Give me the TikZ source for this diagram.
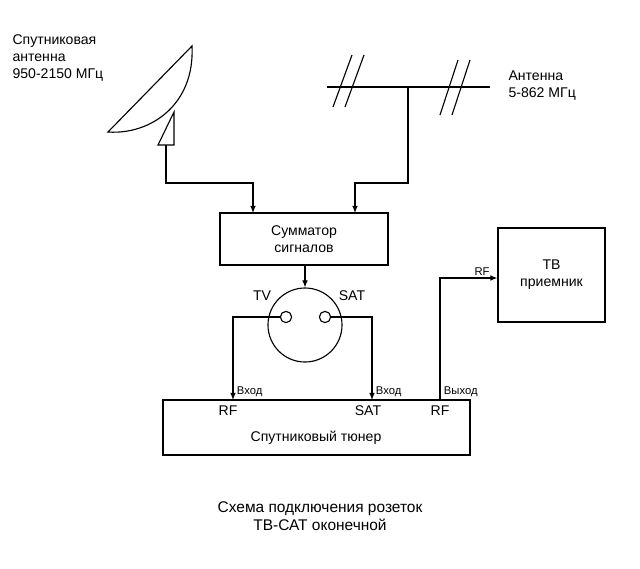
\documentclass[tikz,border=0pt]{standalone}
\usepackage{fontspec}
\setmainfont{Liberation Sans}
\usetikzlibrary{arrows.meta}
\tikzset{
  box/.style={draw, thick, inner sep=0pt},
  lbl/.style={font=\fontsize{10}{12}\selectfont, align=left},
  small/.style={font=\fontsize{8}{9}\selectfont, inner sep=1pt},
  feed/.style={-{Latex[length=5pt,width=4pt]}, thick},
}
\begin{document}
\begin{tikzpicture}[x=0.025cm, y=-0.025cm, thick]
    \useasboundingbox (0,0) rectangle (640,568);

    % satellite dish
    \draw (108,132) -- (192,46) .. controls (195,105) and (150,135) .. cycle;
    \draw (158,145) -- (174,112) -- (174,145) -- cycle;
    \coordinate (dish) at (166,145);
    \node [lbl, anchor=north west, inner sep=0pt] at (12,34) {Спутниковая\\антенна\\950-2150 МГц};

    % terrestrial antenna
    \draw (327,87) -- (490,87);
    \draw (333,107) -- (352,55);
    \draw (345,107) -- (364,55);
    \draw (440,115) -- (458,60);
    \draw (452,115) -- (470,60);
    \coordinate (ant) at (408,87);
    \node [lbl, anchor=north west, inner sep=0pt] at (508,70) {Антенна\\5-862 МГц};

    % combiner
    \node [box, minimum width=4.2cm, minimum height=1.3cm, lbl, align=center] (sum) at (304,239) {Сумматор\\сигналов};
    \draw [feed] (dish) |- (253,183) -- (253,213);
    \draw [feed] (ant) |- (355,183) -- (355,213);

    % socket
    \node [draw, thick, circle, minimum size=1.85cm, inner sep=0pt] (sock) at (305,325) {};
    \draw [feed] (305,265) -- (sock.north);
    \node [draw, circle, minimum size=8pt, inner sep=0pt] (tv) at (286,317) {};
    \node [draw, circle, minimum size=8pt, inner sep=0pt] (sat) at (325,317) {};
    \node [lbl] at (262,296) {TV};
    \node [lbl] at (352,296) {SAT};

    % tuner
    \node [box, minimum width=7.675cm, minimum height=1.375cm] (tun) at (316.5,427.5) {};
    \node [lbl] at (316,438) {Спутниковый тюнер};
    \draw [feed] (tv.west) -- (233,317) -- (233,400);
    \draw [feed] (sat.east) -- (372,317) -- (372,400);
    \node [lbl] at (228,411) {RF};
    \node [lbl] at (368,411) {SAT};
    \node [lbl] at (440,411) {RF};
    \node [small, anchor=south west] at (235,399) {Вход};
    \node [small, anchor=south west] at (374,399) {Вход};
    \node [small, anchor=south west] at (442,399) {Выход};

    % receiver
    \node [box, minimum width=2.675cm, minimum height=2.35cm, lbl, align=center] (rx) at (551.5,275) {ТВ\\приемник};
    \draw [feed] (440,400) |- (rx.west |- 0,278);
    \node [small, anchor=south] at (482,277) {RF};

    % caption
    \node [font=\fontsize{11}{13}\selectfont, align=center] (cap) at (320,516) {Схема подключения розеток\\ТВ-САТ оконечной};
\end{tikzpicture}
\end{document}
